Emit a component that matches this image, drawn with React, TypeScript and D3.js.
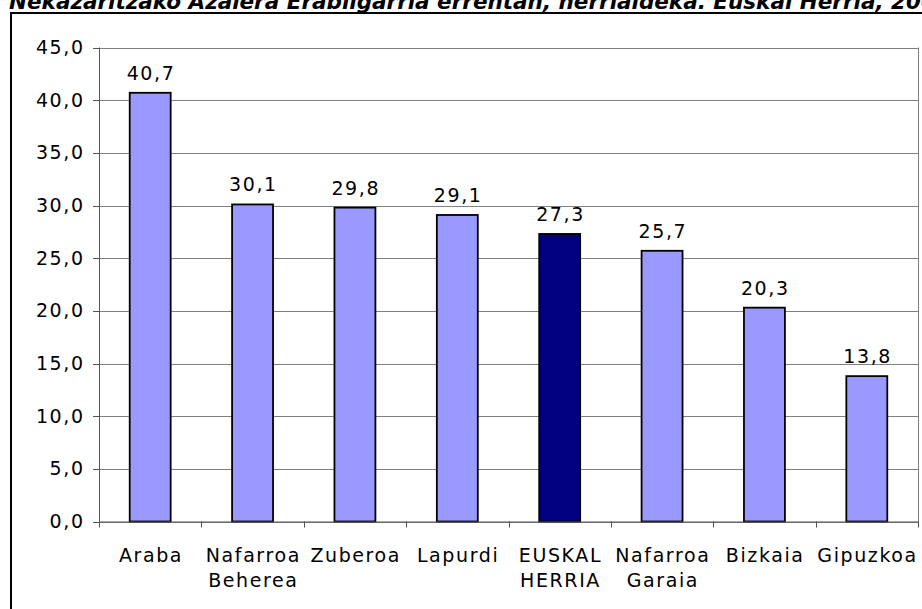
import React from "react";
import * as d3 from "d3";

const categories: string[][] = [
  ["Araba"],
  ["Nafarroa", "Beherea"],
  ["Zuberoa"],
  ["Lapurdi"],
  ["EUSKAL", "HERRIA"],
  ["Nafarroa", "Garaia"],
  ["Bizkaia"],
  ["Gipuzkoa"],
];
const values: number[] = [40.7, 30.1, 29.8, 29.1, 27.3, 25.7, 20.3, 13.8];
const highlight: boolean[] = [false, false, false, false, true, false, false, false];
const yTicks: number[] = [0, 5, 10, 15, 20, 25, 30, 35, 40, 45];
const titleMain = "Nekazaritzako Azalera Erabilgarria errentan, herrialdeka. Euskal Herria, 20";
const titleTail = "09 (%)";

const W = 922;
const H = 609;
const plot = { left: 99, right: 918, top: 47.5, bottom: 521.5 };
const FONT = "Verdana, 'DejaVu Sans', sans-serif";
const FS = 19;
const LS = 1.6;

export default function App() {
  const x = d3
    .scaleBand<number>()
    .domain(values.map((_, i) => i))
    .range([plot.left, plot.right])
    .paddingInner(0.6)
    .paddingOuter(0.3);
  const band = d3.scaleBand<number>().domain(values.map((_, i) => i)).range([plot.left, plot.right]);
  const y = d3.scaleLinear().domain([0, 45]).range([plot.bottom, plot.top]);
  const fmt = (v: number) => d3.format(".1f")(v).replace(".", ",");

  return (
    <svg
      width={W}
      height={H}
      style={{ position: "absolute", left: 0, top: 0, background: "#fff" }}
      fontFamily={FONT}
    >
      <rect x={0} y={0} width={W} height={H} fill="#fff" />
      {/* title, clipped at the top like the reference */}
      <text
        x={921}
        y={9}
        textAnchor="end"
        fontSize={21.5}
        fontWeight="bold"
        fontStyle="italic"
        fill="#000"
      >
        {titleMain}
      </text>
      <text x={921} y={9} fontSize={21.5} fontWeight="bold" fontStyle="italic" fill="#000">
        {titleTail}
      </text>
      {/* chart frame */}
      <rect x={11} y={13} width={W} height={H} fill="none" stroke="#000" strokeWidth={2} />
      {/* gridlines */}
      {yTicks.map((t) => (
        <line
          key={"g" + t}
          x1={plot.left}
          x2={plot.right}
          y1={Math.round(y(t)) + 0.5}
          y2={Math.round(y(t)) + 0.5}
          stroke="#808080"
          strokeWidth={1}
        />
      ))}
      <line x1={plot.right + 0.5} x2={plot.right + 0.5} y1={plot.top} y2={plot.bottom} stroke="#808080" />
      {/* y axis */}
      <line x1={plot.left + 0.5} x2={plot.left + 0.5} y1={plot.top} y2={plot.bottom} stroke="#555" />
      {yTicks.map((t) => (
        <g key={"yt" + t}>
          <line
            x1={plot.left - 6}
            x2={plot.left}
            y1={Math.round(y(t)) + 0.5}
            y2={Math.round(y(t)) + 0.5}
            stroke="#555"
          />
          <text
            x={83 + LS}
            y={y(t) + 6.5}
            textAnchor="end"
            fontSize={FS}
            letterSpacing={LS}
            fill="#000"
          >
            {fmt(t)}
          </text>
        </g>
      ))}
      {/* bars */}
      {values.map((v, i) => (
        <rect
          key={"b" + i}
          x={x(i)!}
          y={y(v)}
          width={x.bandwidth()}
          height={y(0) - y(v)}
          fill={highlight[i] ? "#000080" : "#9999FF"}
          stroke="#000"
          strokeWidth={1.8}
        />
      ))}
      {/* x axis */}
      <line x1={plot.left} x2={plot.right + 1} y1={plot.bottom + 0.5} y2={plot.bottom + 0.5} stroke="#555" />
      {values.map((_, i) => (
        <line
          key={"xt" + i}
          x1={Math.round(band(i)!) + 0.5}
          x2={Math.round(band(i)!) + 0.5}
          y1={plot.bottom}
          y2={plot.bottom + 6}
          stroke="#555"
        />
      ))}
      <line
        x1={plot.right + 0.5}
        x2={plot.right + 0.5}
        y1={plot.bottom}
        y2={plot.bottom + 6}
        stroke="#555"
      />
      {/* value labels */}
      {values.map((v, i) => (
        <text
          key={"v" + i}
          x={x(i)! + x.bandwidth() / 2 + LS / 2}
          y={y(v) - 13}
          textAnchor="middle"
          fontSize={FS}
          letterSpacing={LS}
          fill="#000"
        >
          {fmt(v)}
        </text>
      ))}
      {/* category labels */}
      {categories.map((lines, i) => {
        const cx = band(i)! + band.bandwidth() / 2 + LS / 2;
        return (
          <text
            key={"c" + i}
            x={cx}
            y={562}
            textAnchor="middle"
            fontSize={FS}
            letterSpacing={LS}
            fill="#000"
          >
            {lines.map((l, j) => (
              <tspan key={j} x={cx} dy={j === 0 ? 0 : 24.5}>
                {l}
              </tspan>
            ))}
          </text>
        );
      })}
    </svg>
  );
}
